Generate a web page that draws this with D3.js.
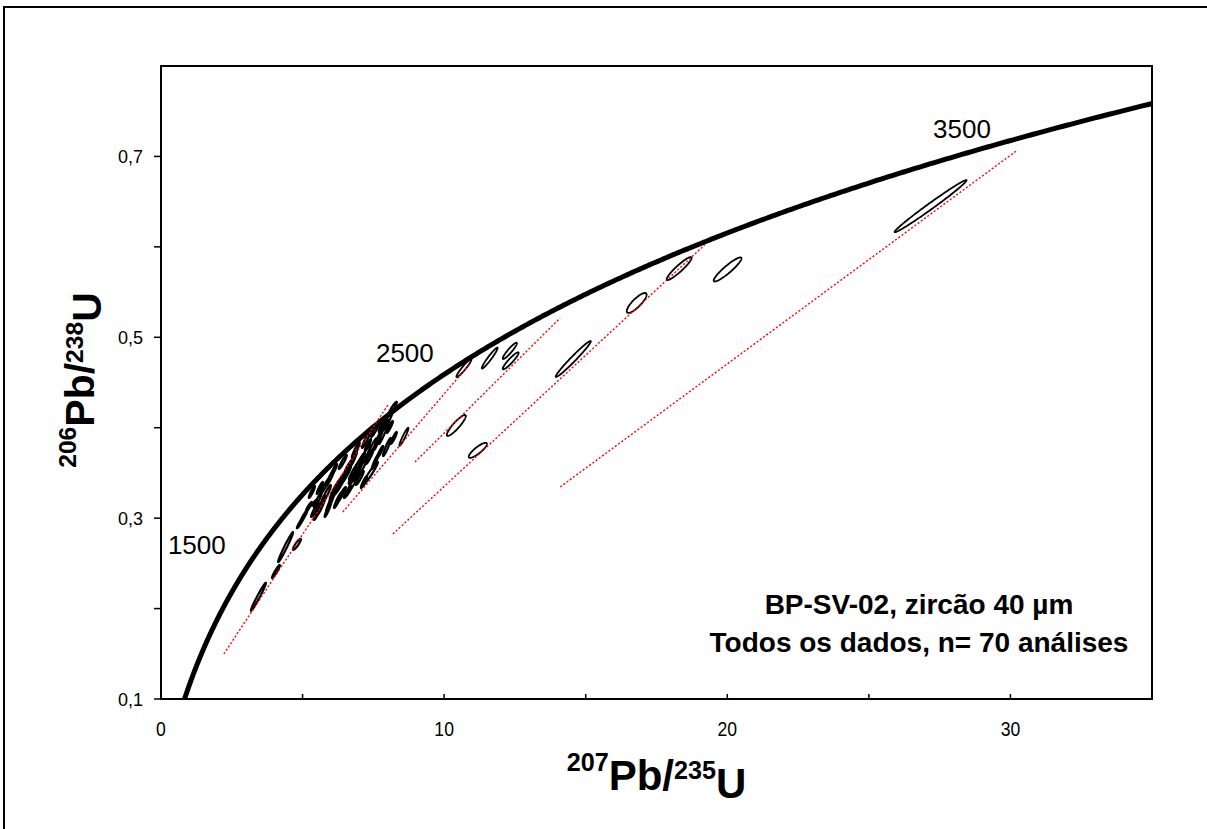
<!DOCTYPE html>
<html><head><meta charset="utf-8">
<script src="https://cdn.jsdelivr.net/npm/d3@7"></script>
<style>
body{margin:0;background:#fff}
svg{display:block}
text{font-family:Arial,"Liberation Sans",sans-serif;fill:#000}
</style>
</head><body>
<svg id="chart" width="1207" height="829"></svg>
<script>
// ---------- data ----------
const xMajorTicks = [0, 10, 20, 30];
const xMinorTicks = [5, 15, 25];
const yMajorTicks = [0.1, 0.3, 0.5, 0.7];
const yMinorTicks = [0.2, 0.4, 0.6];
const ageLabels = [1500, 2500, 3500]; // Ma

// error ellipses: centre (207Pb/235U, 206Pb/238U), half-extents, correlation
const ellX = [27.18,20.01,18.30,16.80,14.56,11.19,10.43,10.70,11.61,12.32,12.35,8.58,
  5.42,4.92,4.80,4.40,4.06,3.44,
  8.19,8.02,7.87,7.66,7.45,7.98,7.38,7.20,7.02,6.85,6.67,6.50,6.32,6.74,6.14,5.97,5.82,5.68,5.54,5.44,
  6.25,5.33,7.02,7.56,7.24,6.42,5.97,5.61,6.60,6.88,7.74,6.11,5.05,8.22,
  7.09,6.57,6.25,5.79,7.38,6.95,6.39,5.89,5.51,7.56,7.80,7.31,6.74,6.07,5.22,8.08,7.17,6.81];
const ellY = [0.645,0.575,0.576,0.538,0.476,0.375,0.4025,0.466,0.477,0.485,0.474,0.390,
  0.317,0.295,0.271,0.268,0.241,0.213,
  0.422,0.4086,0.3953,0.3865,0.3776,0.3787,0.3488,0.3699,0.3621,0.3533,0.3588,0.3466,0.340,0.3367,0.3312,0.3444,0.3256,0.3146,0.320,0.309,
  0.320,0.329,0.3444,0.3621,0.3865,0.3621,0.3168,0.3334,0.3289,0.3754,0.3732,0.3533,0.3024,0.3887,
  0.3555,0.3533,0.3334,0.3356,0.3688,0.3511,0.3267,0.309,0.3046,0.3975,0.403,0.3809,0.3444,0.3256,0.3124,0.4008,0.340,0.3666];
const ellSX = [1.27,0.49,0.44,0.35,0.62,0.32,0.335,0.265,0.28,0.25,0.28,0.16,
  0.09,0.12,0.14,0.265,0.14,0.265,
  0.14,0.18,0.18,0.14,0.18,0.14,0.28,0.21,0.18,0.21,0.18,0.21,0.18,0.18,0.18,0.14,0.18,0.14,0.14,0.14,
  0.14,0.11,0.14,0.11,0.14,0.14,0.14,0.11,0.14,0.14,0.11,0.11,0.11,0.11,
  0.18,0.14,0.18,0.14,0.14,0.14,0.14,0.11,0.11,0.14,0.11,0.11,0.11,0.11,0.11,0.11,0.11,0.11];
const ellSY = [0.0288,0.0133,0.0127,0.011,0.0199,0.0083,0.0116,0.010,0.0116,0.009,0.0094,0.010,
  0.0033,0.0061,0.0061,0.0166,0.0072,0.0155,
  0.0066,0.011,0.0133,0.011,0.011,0.010,0.0133,0.011,0.010,0.011,0.0088,0.011,0.010,0.0088,0.011,0.0088,0.011,0.010,0.0088,0.0077,
  0.0088,0.0066,0.0077,0.0077,0.0088,0.0077,0.010,0.0066,0.0066,0.0088,0.0066,0.0066,0.0055,0.0066,
  0.010,0.0088,0.0088,0.0077,0.0088,0.010,0.0077,0.0077,0.0066,0.0077,0.0077,0.0066,0.0066,0.0077,0.0055,0.0066,0.0066,0.0066];
const ellRho = [0.99,0.92,0.93,0.83,0.98,0.85,0.90,0.95,0.96,0.93,0.93,0.95,
  0.90,0.95,0.90,0.98,0.95,0.98,
  0.93,0.95,0.96,0.95,0.95,0.94,0.97,0.95,0.95,0.95,0.94,0.95,0.95,0.94,0.95,0.94,0.95,0.95,0.94,0.94,
  0.94,0.93,0.94,0.93,0.94,0.94,0.95,0.93,0.93,0.94,0.93,0.93,0.93,0.93,
  0.95,0.94,0.94,0.94,0.94,0.95,0.94,0.94,0.93,0.94,0.93,0.93,0.93,0.94,0.93,0.93,0.93,0.93];

// discordia reference lines (red dotted): start / end points
const discX0 = [2.22, 6.42, 8.97, 8.19, 14.10];
const discY0 = [0.1498, 0.3068, 0.3621, 0.2825, 0.3345];
const discX1 = [8.01, 10.91, 14.10, 19.20, 30.21];
const discY1 = [0.425, 0.4705, 0.5214, 0.6021, 0.7061];

const infoLines = ["BP-SV-02, zircão 40 µm", "Todos os dados, n= 70 análises"];

// ---------- layout ----------
const L = 161, R = 1152, T = 66, B = 699;
const svg = d3.select("#chart");
const x = d3.scaleLinear().domain([0, 35]).range([L, R]);
const y = d3.scaleLinear().domain([0.1, 0.8]).range([B, T]);

// outer frame
svg.append("path").attr("d", `M4,829 L4,7 L1207,7`).attr("fill","none").attr("stroke","#000").attr("stroke-width",2);

svg.append("defs").append("clipPath").attr("id","clip")
  .append("rect").attr("x",L).attr("y",T).attr("width",R-L).attr("height",B-T);

const plot = svg.append("g").attr("clip-path","url(#clip)");

// concordia
const l238 = 1.55125e-10, l235 = 9.8485e-10;
const conc = d3.range(500e6, 3800e6, 5e6).map(t => [Math.exp(l235*t)-1, Math.exp(l238*t)-1]);
const line = d3.line().x(d => x(d[0])).y(d => y(d[1]));
plot.append("path").attr("d", line(conc)).attr("fill","none").attr("stroke","#000").attr("stroke-width",5);

// ellipses
const ellLine = d3.line().x(d => x(d[0])).y(d => y(d[1])).curve(d3.curveLinearClosed);
const angles = d3.range(0, 2*Math.PI, Math.PI/60);
ellX.forEach((cx, i) => {
  const sx = ellSX[i], sy = ellSY[i], r = ellRho[i], q = Math.sqrt(1 - r*r);
  const pts = angles.map(a => [cx + sx*Math.cos(a), ellY[i] + sy*(r*Math.cos(a) + q*Math.sin(a))]);
  plot.append("path").attr("d", ellLine(pts)).attr("fill","none").attr("stroke","#000")
    .attr("stroke-width", i < 12 ? 1.8 : 2.2);
});

// discordia lines
discX0.forEach((d, i) => {
  plot.append("line")
    .attr("x1", x(d)).attr("y1", y(discY0[i]))
    .attr("x2", x(discX1[i])).attr("y2", y(discY1[i]))
    .attr("stroke","#ff0000").attr("stroke-width",1.4).attr("stroke-dasharray","2,2");
});

// age labels
ageLabels.forEach(a => {
  const t = a*1e6;
  svg.append("text").attr("x", x(Math.exp(l235*t)-1) - 31).attr("y", y(Math.exp(l238*t)-1) + 1)
    .attr("text-anchor","end").attr("font-size",26).text(a);
});

// plot frame
svg.append("rect").attr("x",L).attr("y",T).attr("width",R-L).attr("height",B-T)
  .attr("fill","none").attr("stroke","#000").attr("stroke-width",2);

// axes ticks
const xAxis = svg.append("g");
xMajorTicks.concat(xMinorTicks).forEach(v => {
  xAxis.append("line").attr("x1",x(v)).attr("x2",x(v)).attr("y1",B).attr("y2",B-5).attr("stroke","#000").attr("stroke-width",1.5);
});
xMajorTicks.forEach(v => {
  xAxis.append("text").attr("transform",`translate(${x(v)},${B+37}) scale(0.88,1)`)
    .attr("text-anchor","middle").attr("font-size",20).text(v);
});
const yAxis = svg.append("g");
yMajorTicks.concat(yMinorTicks).forEach(v => {
  yAxis.append("line").attr("x1",L).attr("x2",L-7).attr("y1",y(v)).attr("y2",y(v)).attr("stroke","#000").attr("stroke-width",1.5);
});
yMajorTicks.forEach(v => {
  yAxis.append("text").attr("x",L-18).attr("y",y(v)+7).attr("text-anchor","end").attr("font-size",18)
    .text(d3.format(".1f")(v).replace(".", ","));
});

// axis titles
function isoLabel(sel, m1, el1, m2, el2) {
  sel.append("tspan").attr("font-size","0.6em").attr("dy","-0.75em").text(m1);
  sel.append("tspan").attr("dy","0.45em").text(el1);
  sel.append("tspan").attr("font-size","0.6em").attr("dy","-0.45em").text(m2);
  sel.append("tspan").attr("dy","0.45em").text(el2);
}
const xt = svg.append("text").attr("x",(L+R)/2).attr("y",790).attr("text-anchor","middle")
  .attr("font-size",42).attr("font-weight","bold");
isoLabel(xt, "207", "Pb/", "235", "U");
const yt = svg.append("text").attr("transform","translate(94,380) rotate(-90)").attr("text-anchor","middle")
  .attr("font-size",41).attr("font-weight","bold");
isoLabel(yt, "206", "Pb/", "238", "U");

// info text
infoLines.forEach((s, i) => {
  svg.append("text").attr("x",919).attr("y",614 + i*38).attr("text-anchor","middle")
    .attr("font-size",28).attr("font-weight","bold").text(s);
});
</script>
</body></html>
